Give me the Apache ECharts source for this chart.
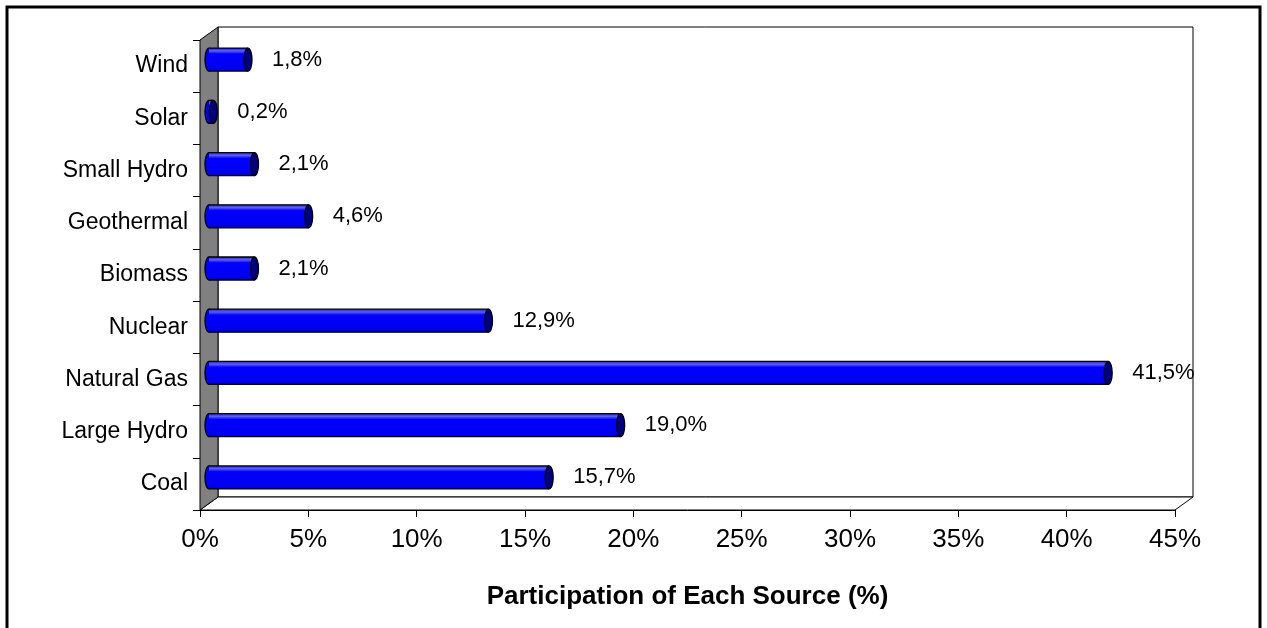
<!DOCTYPE html>
<html><head><meta charset="utf-8">
<script src="https://cdn.jsdelivr.net/npm/echarts@6/dist/echarts.min.js"></script>
<style>html,body{margin:0;padding:0;background:#fff}#c{width:1267px;height:628px}</style>
</head><body><div id="c"></div>
<script>
const categories = ['Coal','Large Hydro','Natural Gas','Nuclear','Biomass','Geothermal','Small Hydro','Solar','Wind'];
const values = [15.7, 19.0, 41.5, 12.9, 2.1, 4.6, 2.1, 0.2, 1.8];
const valueLabels = ['15,7%','19,0%','41,5%','12,9%','2,1%','4,6%','2,1%','0,2%','1,8%'];
const xTickLabels = ['0%','5%','10%','15%','20%','25%','30%','35%','40%','45%'];
const axisTitle = 'Participation of Each Source (%)';

const FONT = '"Liberation Sans", Arial, sans-serif';
const DX = 18, DY = 13;       // 3D depth offset
const BAR_H = 23, CAP_RX = 4;

const chart = echarts.init(document.getElementById('c'), null, {renderer:'canvas'});

function wallsItem(params, api){
  const cs = params.coordSys;
  const x = cs.x, y = cs.y, w = cs.width, h = cs.height;
  return {type:'group', children:[
    {type:'rect', shape:{x:x+DX, y:y-DY, width:w, height:h}, style:{fill:'#fff', stroke:'#000', lineWidth:1}},
    {type:'polygon', shape:{points:[[x,y+h],[x+DX,y+h-DY],[x+w+DX,y+h-DY],[x+w,y+h]]}, style:{fill:'#fff', stroke:'#000', lineWidth:1}},
    {type:'polygon', shape:{points:[[x,y],[x+DX,y-DY],[x+DX,y+h-DY],[x,y+h]]}, style:{fill:'#808080', stroke:'#000', lineWidth:1}}
  ]};
}

function barItem(params, api){
  const v = api.value(0), ci = api.value(1);
  const p0 = api.coord([0, ci]), p1 = api.coord([v, ci]);
  const xs = p0[0] + DX/2, xe = p1[0] + DX/2, yc = p0[1] - DY/2;
  const top = yc - BAR_H/2, bot = yc + BAR_H/2;
  const grad = new echarts.graphic.LinearGradient(0,0,0,1,[
    {offset:0, color:'#1a1aff'},{offset:0.12, color:'#6060ff'},{offset:0.25, color:'#0000ff'},
    {offset:0.85, color:'#0000f0'},{offset:1, color:'#0000c8'}]);
  return {type:'group', children:[
    {type:'ellipse', shape:{cx:xs, cy:yc, rx:CAP_RX, ry:BAR_H/2}, style:{fill:'#0000ff', stroke:'#000', lineWidth:1.3}},
    {type:'rect', shape:{x:xs, y:top, width:Math.max(xe-xs,0), height:BAR_H}, style:{fill:grad}},
    {type:'line', shape:{x1:xs, y1:top, x2:xe, y2:top}, style:{stroke:'#000', lineWidth:1.3}},
    {type:'line', shape:{x1:xs, y1:bot, x2:xe, y2:bot}, style:{stroke:'#000', lineWidth:1.3}},
    {type:'ellipse', shape:{cx:xe, cy:yc, rx:CAP_RX, ry:BAR_H/2}, style:{fill:'#000080', stroke:'#000', lineWidth:1.3}},
    {type:'text', x:xe + CAP_RX + 20, y:yc, style:{text:valueLabels[params.dataIndex], fill:'#000', font:'22px ' + FONT, verticalAlign:'middle', align:'left'}}
  ]};
}

chart.setOption({
  animation:false,
  backgroundColor:'#fff',
  grid:{left:200, top:40, right:92, bottom:118, containLabel:false},
  xAxis:{type:'value', min:0, max:45, interval:5,
    axisLine:{show:true, lineStyle:{color:'#000', width:1}},
    axisTick:{show:true, inside:false, length:7, lineStyle:{color:'#000'}},
    splitLine:{show:false},
    axisLabel:{margin:17, color:'#000', fontSize:26, fontFamily:FONT,
      formatter:(v)=> xTickLabels[Math.round(v/5)]},
    name:axisTitle, nameLocation:'middle', nameGap:74,
    nameTextStyle:{color:'#000', fontSize:26, fontWeight:'bold', fontFamily:FONT}
  },
  yAxis:{type:'category', data:categories,
    axisLine:{show:true, lineStyle:{color:'#000', width:1}},
    axisTick:{show:true, inside:false, length:7, lineStyle:{color:'#000'}},
    splitLine:{show:false},
    axisLabel:{margin:12, color:'#000', fontSize:23, fontFamily:FONT}
  },
  graphic:[{type:'rect', silent:true, z:100, shape:{x:7, y:7, width:1253, height:700}, style:{fill:null, stroke:'#000', lineWidth:3}}],
  series:[
    {type:'custom', name:'walls', silent:true, clip:false, z:1, renderItem:wallsItem, data:[[0,0]], encode:{x:0,y:1}},
    {type:'custom', name:'share', silent:true, clip:false, z:3, renderItem:barItem,
      data: values.map((v,i)=>[v,i]), encode:{x:0, y:1}}
  ]
});
</script></body></html>
